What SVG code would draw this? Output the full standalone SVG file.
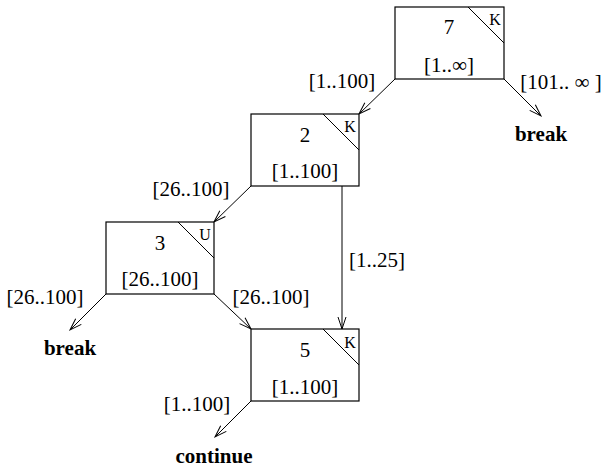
<svg xmlns="http://www.w3.org/2000/svg" width="605" height="468" viewBox="0 0 605 468">
<defs>
<marker id="ah" markerWidth="14" markerHeight="10" refX="13" refY="5" orient="auto" markerUnits="userSpaceOnUse">
<path d="M1,1 L13,5 L1,9" fill="none" stroke="#000" stroke-width="1"/>
</marker>
<style>
.box{fill:#fff;stroke:#000;stroke-width:1.2}
.diag{stroke:#000;stroke-width:1}
.t{font-family:"Liberation Serif","Times New Roman",serif;font-size:21px;fill:#000;text-anchor:middle}
.k{font-family:"Liberation Serif","Times New Roman",serif;font-size:16px;fill:#000;text-anchor:middle}
.b{font-family:"Liberation Serif","Times New Roman",serif;font-size:21px;font-weight:bold;fill:#000;text-anchor:middle}
.e{stroke:#000;stroke-width:1;fill:none;marker-end:url(#ah)}
</style>
</defs>
<rect width="605" height="468" fill="#fff"/>
<g id="connectors">
<line class="e" x1="395" y1="79" x2="359" y2="114"/>
<line class="e" x1="504" y1="79" x2="541" y2="116"/>
<line class="e" x1="251" y1="186" x2="214" y2="222"/>
<line class="e" x1="342" y1="186" x2="342" y2="329"/>
<line class="e" x1="106" y1="294" x2="70" y2="330"/>
<line class="e" x1="214" y1="294" x2="251" y2="329"/>
<line class="e" x1="251" y1="401" x2="215" y2="437"/>
<text class="t" x="342" y="88">[1..100]</text>
<text class="t" x="561" y="89">[101.. ∞ ]</text>
<text class="t" x="191" y="196">[26..100]</text>
<text class="t" x="377" y="267">[1..25]</text>
<text class="t" x="45" y="304">[26..100]</text>
<text class="t" x="271" y="304">[26..100]</text>
<text class="t" x="197" y="411">[1..100]</text>
<text class="b" x="541" y="141">break</text>
<text class="b" x="70" y="355">break</text>
<text class="b" x="214" y="463">continue</text>
</g>
<g id="node7">
<rect class="box" x="395" y="7" width="109" height="72"/>
<line class="diag" x1="468" y1="7" x2="504" y2="43"/>
<text class="k" x="495" y="25">K</text>
<text class="t" x="449" y="34">7</text>
<text class="t" x="449" y="72">[1..∞]</text>
</g>
<g id="node2">
<rect class="box" x="251" y="114" width="108" height="72"/>
<line class="diag" x1="323" y1="114" x2="359" y2="150"/>
<text class="k" x="350" y="132">K</text>
<text class="t" x="305" y="142">2</text>
<text class="t" x="305" y="178">[1..100]</text>
</g>
<g id="node3">
<rect class="box" x="106" y="222" width="108" height="72"/>
<line class="diag" x1="178" y1="222" x2="214" y2="258"/>
<text class="k" x="205" y="240">U</text>
<text class="t" x="160" y="250">3</text>
<text class="t" x="160" y="286">[26..100]</text>
</g>
<g id="node5">
<rect class="box" x="251" y="329" width="108" height="72"/>
<line class="diag" x1="323" y1="329" x2="359" y2="365"/>
<text class="k" x="350" y="348">K</text>
<text class="t" x="305" y="357">5</text>
<text class="t" x="305" y="394">[1..100]</text>
</g>
</svg>
